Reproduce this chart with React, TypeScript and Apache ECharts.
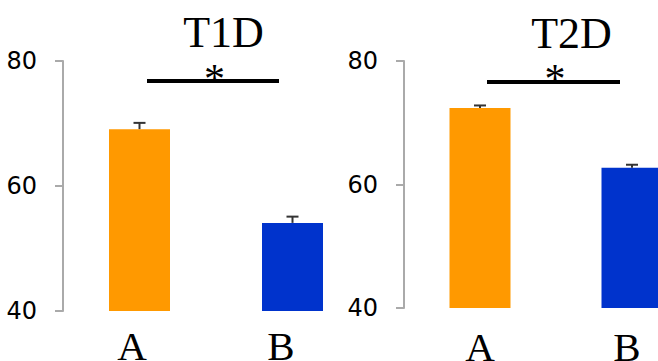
import React, { useEffect, useRef } from "react";
import * as echarts from "echarts";

const categories = ["A", "B"];
const panelTitles = ["T1D", "T2D"];
const t1dValues = [69.1, 54.1];
const t1dErrors = [1.0, 1.0];
const t2dValues = [72.4, 62.7];
const t2dErrors = [0.4, 0.5];
const barColors = ["#ff9900", "#0033cc"];
const yMin = 40;
const yMax = 80;
const yInterval = 20;

const SERIF = "Liberation Serif";
const SANS = "DejaVu Sans";

function errorRender(params: any, api: any) {
  const x = api.value(0);
  const v = api.value(1);
  const e = api.value(2);
  const base = api.coord([x, v]);
  const top = api.coord([x, v + e]);
  const st = { stroke: "#333", lineWidth: 2 };
  return {
    type: "group",
    children: [
      { type: "line", shape: { x1: base[0], y1: base[1], x2: top[0], y2: top[1] }, style: st },
      { type: "line", shape: { x1: top[0] - 6, y1: top[1], x2: top[0] + 6, y2: top[1] }, style: st },
    ],
  };
}

export default function App() {
  const ref = useRef<HTMLDivElement>(null);
  useEffect(() => {
    if (!ref.current) return;
    const chart = echarts.init(ref.current, null, { renderer: "svg" });
    const panels = [
      { values: t1dValues, errors: t1dErrors, shift: [15, 23] },
      { values: t2dValues, errors: t2dErrors, shift: [0, 10] },
    ];
    const grids = [
      { left: 63, top: 61, width: 306, height: 250 },
      { left: 404, top: 61, width: 304, height: 247 },
    ];
    const labelMargins = [14, 18];
    const option: any = {
      animation: false,
      title: panelTitles.map((t, i) => ({
        text: t,
        left: i === 0 ? 223.5 : 571.5,
        top: i === 0 ? 10 : 11,
        textAlign: "center",
        padding: 0,
        textStyle: { fontFamily: SERIF, fontSize: 44, fontWeight: "normal", color: "#000" },
      })),
      grid: grids.map((g) => ({ ...g, containLabel: false, outerBoundsMode: "none" })),
      xAxis: panels.map((p, i) => ({
        type: "category",
        gridIndex: i,
        data: categories,
        axisLine: { show: false },
        axisTick: { show: false },
        axisLabel: {
          margin: labelMargins[i],
          formatter: (val: string) => `{${val.toLowerCase()}|${val}}`,
          rich: {
            a: { fontFamily: SERIF, fontSize: 41, color: "#000", padding: [0, p.shift[0], 0, 0] },
            b: { fontFamily: SERIF, fontSize: 41, color: "#000", padding: [0, p.shift[1], 0, 0] },
          },
        },
      })),
      yAxis: panels.map((p, i) => ({
        type: "value",
        gridIndex: i,
        min: yMin,
        max: yMax,
        interval: yInterval,
        splitLine: { show: false },
        axisLine: { show: true, lineStyle: { color: "#aaaaaa", width: 2 } },
        axisTick: { show: true, length: 8, lineStyle: { color: "#aaaaaa", width: 2 } },
        axisLabel: {
          margin: 26,
          fontFamily: SANS,
          fontSize: 24,
          color: "#000",
          padding: [0, 0, 6, 0],
        },
      })),
      series: [
        ...panels.map((p, i) => ({
          type: "bar",
          xAxisIndex: i,
          yAxisIndex: i,
          barWidth: 61,
          data: p.values.map((v, j) => ({ value: v, itemStyle: { color: barColors[j] } })),
        })),
        ...panels.map((p, i) => ({
          type: "custom",
          xAxisIndex: i,
          yAxisIndex: i,
          z: 5,
          renderItem: errorRender,
          data: p.values.map((v, j) => [j, v, p.errors[j]]),
        })),
      ],
      graphic: [
        { type: "rect", shape: { x: 147, y: 79, width: 132, height: 4 }, style: { fill: "#000" } },
        { type: "rect", shape: { x: 487, y: 80, width: 133, height: 4 }, style: { fill: "#000" } },
        {
          type: "text",
          x: 214.5,
          y: 79,
          style: { text: "*", fontFamily: SERIF, fontSize: 42, fill: "#000", align: "center", verticalAlign: "middle" },
        },
        {
          type: "text",
          x: 555,
          y: 79,
          style: { text: "*", fontFamily: SERIF, fontSize: 42, fill: "#000", align: "center", verticalAlign: "middle" },
        },
      ],
    };
    chart.setOption(option);
    return () => chart.dispose();
  }, []);
  return (
    <div
      ref={ref}
      style={{ position: "fixed", left: 0, top: 0, width: 658, height: 361, background: "#fff" }}
    />
  );
}
